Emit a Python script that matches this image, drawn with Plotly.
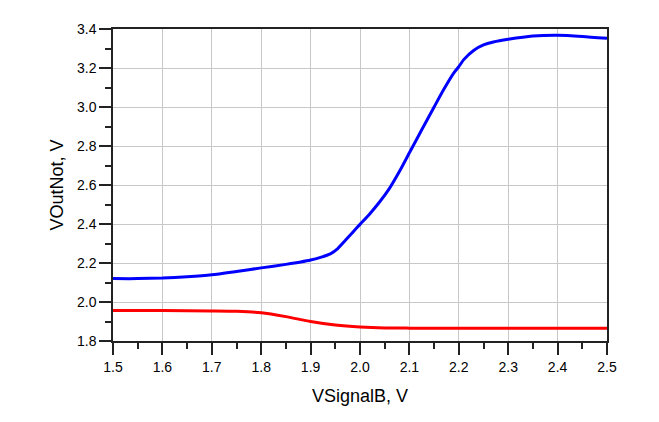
import plotly.graph_objects as go

# Blue curve (VOutNot upper branch)
blue_x = [1.50, 1.55, 1.60, 1.65, 1.70, 1.75, 1.80, 1.85, 1.88, 1.90, 1.92, 1.94,
          1.955, 1.97, 1.985, 2.00, 2.02, 2.04, 2.06, 2.08, 2.10, 2.125, 2.15, 2.17,
          2.19, 2.20, 2.21, 2.23, 2.25, 2.27, 2.30, 2.35, 2.40, 2.45, 2.50]
blue_y = [2.120, 2.120, 2.123, 2.130, 2.140, 2.157, 2.175, 2.193, 2.205, 2.215, 2.229, 2.247,
          2.274, 2.315, 2.357, 2.398, 2.453, 2.514, 2.584, 2.670, 2.765, 2.883, 3.000, 3.092,
          3.175, 3.207, 3.243, 3.290, 3.318, 3.333, 3.347, 3.364, 3.368, 3.362, 3.352]

# Red curve (lower branch)
red_x = [1.50, 1.60, 1.70, 1.75, 1.80, 1.85, 1.90, 1.95, 2.00, 2.05, 2.10, 2.30, 2.50]
red_y = [1.957, 1.956, 1.954, 1.952, 1.945, 1.925, 1.900, 1.882, 1.872, 1.867, 1.866, 1.866, 1.866]

x_title = "VSignalB, V"
y_title = "VOutNot, V"

fig = go.Figure()
fig.add_trace(go.Scatter(x=blue_x, y=blue_y, mode="lines",
                         line=dict(color="#0000FF", width=3, shape="spline", smoothing=0.6),
                         showlegend=False))
fig.add_trace(go.Scatter(x=red_x, y=red_y, mode="lines",
                         line=dict(color="#FF0000", width=3, shape="spline", smoothing=0.6),
                         showlegend=False))

font = dict(family="Liberation Sans, Arial, sans-serif", color="black")

fig.update_layout(
    width=659, height=422,
    margin=dict(l=105, r=60, t=21, b=89),
    paper_bgcolor="white", plot_bgcolor="white",
    font=dict(**font, size=14),
    xaxis=dict(
        range=[1.5, 2.5], dtick=0.1, tick0=1.5, tickformat=".1f",
        showgrid=True, gridcolor="#c8c8c8", gridwidth=1,
        showline=True, linecolor="#222222", linewidth=1.5, mirror=True,
        ticks="outside", ticklen=12, tickcolor="#222222", tickwidth=1.5,
        minor=dict(dtick=0.05, tick0=1.5, ticks="outside", ticklen=6,
                   tickcolor="#222222", tickwidth=1.5, showgrid=False),
        zeroline=False,
        title=dict(text=x_title, font=dict(**font, size=18), standoff=16),
        tickfont=dict(**font, size=14),
    ),
    yaxis=dict(
        range=[1.8, 3.4], dtick=0.2, tick0=1.8, tickformat=".1f",
        showgrid=True, gridcolor="#c8c8c8", gridwidth=1,
        showline=True, linecolor="#222222", linewidth=1.5, mirror=True,
        ticks="outside", ticklen=12, tickcolor="#222222", tickwidth=1.5,
        minor=dict(dtick=0.1, tick0=1.8, ticks="outside", ticklen=6,
                   tickcolor="#222222", tickwidth=1.5, showgrid=False),
        zeroline=False,
        title=dict(text=y_title, font=dict(**font, size=18), standoff=9),
        tickfont=dict(**font, size=14),
    ),
)

fig.write_html("out.html")
